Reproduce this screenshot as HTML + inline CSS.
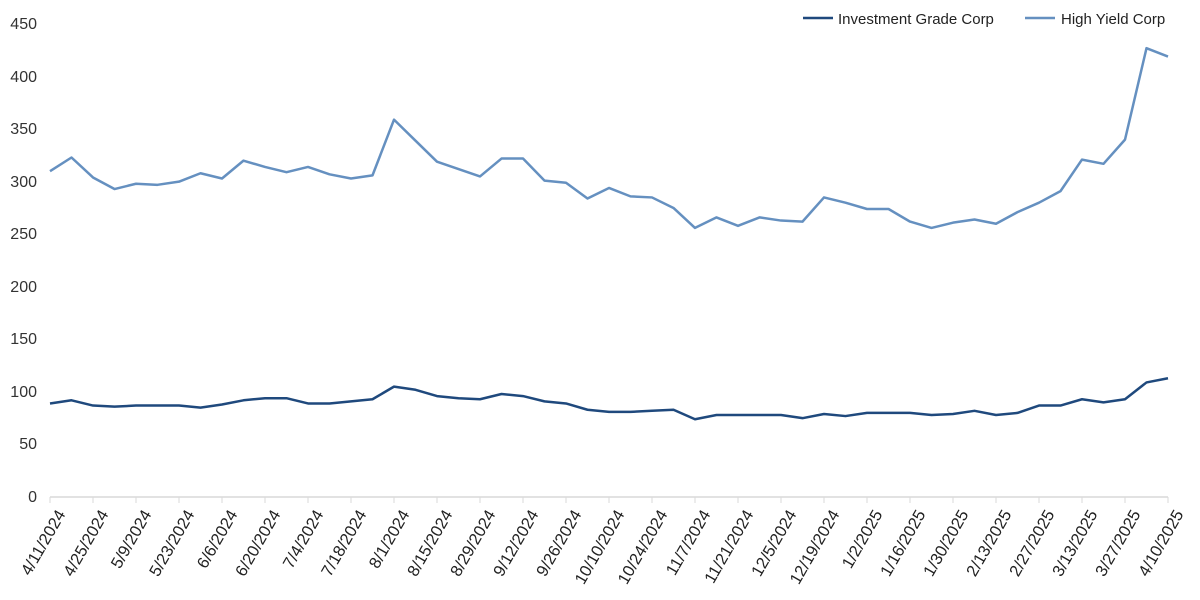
<!DOCTYPE html>
<html><head><meta charset="utf-8"><style>
body{margin:0;background:#fff;}
svg{display:block;font-family:"Liberation Sans",sans-serif;}
</style></head><body>
<svg width="1200" height="600" viewBox="0 0 1200 600">
<g font-size="16" fill="#333" text-anchor="end">
<text x="37" y="502">0</text><text x="37" y="449">50</text><text x="37" y="397">100</text><text x="37" y="344">150</text><text x="37" y="292">200</text><text x="37" y="239">250</text><text x="37" y="187">300</text><text x="37" y="134">350</text><text x="37" y="82">400</text><text x="37" y="29">450</text>
</g>
<line x1="50" y1="497" x2="1168" y2="497" stroke="#d9d9d9" stroke-width="1.5"/>
<g stroke="#d9d9d9" stroke-width="1">
<path d="M50 497v6M93 497v6M136 497v6M179 497v6M222 497v6M265 497v6M308 497v6M351 497v6M394 497v6M437 497v6M480 497v6M523 497v6M566 497v6M609 497v6M652 497v6M695 497v6M738 497v6M781 497v6M824 497v6M867 497v6M910 497v6M953 497v6M996 497v6M1039 497v6M1082 497v6M1125 497v6M1168 497v6"/>
</g>
<g transform="translate(50,497) scale(21.5,-1.0511)" fill="none">
<polyline vector-effect="non-scaling-stroke" stroke="#6590c0" stroke-width="2.5" stroke-linejoin="round" points="0,310 1,323 2,304 3,293 4,298 5,297 6,300 7,308 8,303 9,320 10,314 11,309 12,314 13,307 14,303 15,306 16,359 17,339 18,319 19,312 20,305 21,322 22,322 23,301 24,299 25,284 26,294 27,286 28,285 29,275 30,256 31,266 32,258 33,266 34,263 35,262 36,285 37,280 38,274 39,274 40,262 41,256 42,261 43,264 44,260 45,271 46,280 47,291 48,321 49,317 50,340 51,427 52,419"/>
<polyline vector-effect="non-scaling-stroke" stroke="#1f497d" stroke-width="2.5" stroke-linejoin="round" points="0,89 1,92 2,87 3,86 4,87 5,87 6,87 7,85 8,88 9,92 10,94 11,94 12,89 13,89 14,91 15,93 16,105 17,102 18,96 19,94 20,93 21,98 22,96 23,91 24,89 25,83 26,81 27,81 28,82 29,83 30,74 31,78 32,78 33,78 34,78 35,75 36,79 37,77 38,80 39,80 40,80 41,78 42,79 43,82 44,78 45,80 46,87 47,87 48,93 49,90 50,93 51,109 52,113"/>
</g>
<line x1="803" y1="18" x2="833" y2="18" stroke="#1f497d" stroke-width="2.5"/>
<text x="838" y="24" font-size="15" fill="#222">Investment Grade Corp</text>
<line x1="1025" y1="18" x2="1055" y2="18" stroke="#6590c0" stroke-width="2.5"/>
<text x="1061" y="24" font-size="15" fill="#222">High Yield Corp</text>
<g font-size="16.5" fill="#222" text-anchor="end">
<text transform="translate(66,514) rotate(-60)">4/11/2024</text>
<text transform="translate(109,514) rotate(-60)">4/25/2024</text>
<text transform="translate(152,514) rotate(-60)">5/9/2024</text>
<text transform="translate(195,514) rotate(-60)">5/23/2024</text>
<text transform="translate(238,514) rotate(-60)">6/6/2024</text>
<text transform="translate(281,514) rotate(-60)">6/20/2024</text>
<text transform="translate(324,514) rotate(-60)">7/4/2024</text>
<text transform="translate(367,514) rotate(-60)">7/18/2024</text>
<text transform="translate(410,514) rotate(-60)">8/1/2024</text>
<text transform="translate(453,514) rotate(-60)">8/15/2024</text>
<text transform="translate(496,514) rotate(-60)">8/29/2024</text>
<text transform="translate(539,514) rotate(-60)">9/12/2024</text>
<text transform="translate(582,514) rotate(-60)">9/26/2024</text>
<text transform="translate(625,514) rotate(-60)">10/10/2024</text>
<text transform="translate(668,514) rotate(-60)">10/24/2024</text>
<text transform="translate(711,514) rotate(-60)">11/7/2024</text>
<text transform="translate(754,514) rotate(-60)">11/21/2024</text>
<text transform="translate(797,514) rotate(-60)">12/5/2024</text>
<text transform="translate(840,514) rotate(-60)">12/19/2024</text>
<text transform="translate(883,514) rotate(-60)">1/2/2025</text>
<text transform="translate(926,514) rotate(-60)">1/16/2025</text>
<text transform="translate(969,514) rotate(-60)">1/30/2025</text>
<text transform="translate(1012,514) rotate(-60)">2/13/2025</text>
<text transform="translate(1055,514) rotate(-60)">2/27/2025</text>
<text transform="translate(1098,514) rotate(-60)">3/13/2025</text>
<text transform="translate(1141,514) rotate(-60)">3/27/2025</text>
<text transform="translate(1184,514) rotate(-60)">4/10/2025</text>
</g>
</svg>
</body></html>
